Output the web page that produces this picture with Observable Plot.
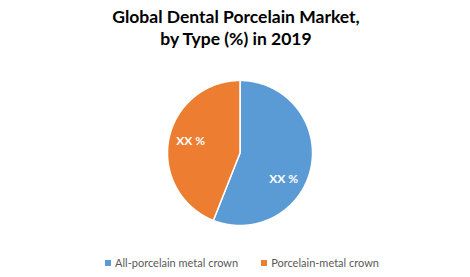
<!DOCTYPE html>
<html>
<head>
<meta charset="utf-8">
<script src="https://cdn.jsdelivr.net/npm/d3@7"></script>
<script src="https://cdn.jsdelivr.net/npm/@observablehq/plot@0.6"></script>
<style>
  html, body { margin: 0; padding: 0; background: #fff; }
  #wrap { width: 470px; height: 277px; position: relative; overflow: hidden; font-family: Lato, "Open Sans", sans-serif; }
  #title { position: absolute; top: 6px; left: 0; width: 472px; text-align: center; font-weight: bold; font-size: 17.5px; line-height: 22px; color: #000; }
  #chart { position: absolute; top: 60px; left: 0; }
  #legend { position: absolute; top: 256px; left: 7px; width: 470px; display: flex; justify-content: center; gap: 23px; font-size: 11px; color: #595959; }
  .item { display: flex; align-items: center; }
  .sw { width: 6px; height: 6px; margin-right: 4px; }
</style>
</head>
<body>
<div id="wrap">
  <div id="title">Global Dental Porcelain Market,<br>by Type (%) in 2019</div>
  <div id="chart"></div>
  <div id="legend"></div>
</div>
<script>
const categories = ["All-porcelain metal crown", "Porcelain-metal crown"];
const values = [56, 44];
const labels = ["XX %", "XX %"];
const colors = ["#5B9BD5", "#ED7D31"];

const W = 470, H = 185, R = 72.5, CX = 239.5, CY = 92.5;

const pie = d3.pie().sort(null).value(d => d.value);
const arcs = pie(categories.map((c, i) => ({type: c, value: values[i], label: labels[i]})));

// polygon points for each slice (center + sampled arc), in unit-radius coordinates
const pts = [];
for (const a of arcs) {
  pts.push({type: a.data.type, x: 0, y: 0});
  const n = Math.max(2, Math.ceil((a.endAngle - a.startAngle) / 0.01));
  for (let k = 0; k <= n; k++) {
    const t = a.startAngle + (a.endAngle - a.startAngle) * k / n;
    pts.push({type: a.data.type, x: Math.sin(t), y: Math.cos(t)});
  }
  pts.push({type: a.data.type, x: 0, y: 0});
}
const labelPts = arcs.map((a, i) => {
  const m = (a.startAngle + a.endAngle) / 2 + (i === 0 ? 0.35 : 0.05);
  return {label: a.data.label, x: 0.7 * Math.sin(m), y: 0.7 * Math.cos(m)};
});

const chart = Plot.plot({
  width: W, height: H,
  margin: 0,
  x: {domain: [-CX / R, (W - CX) / R], axis: null},
  y: {domain: [-(H - CY) / R, CY / R], axis: null},
  color: {domain: categories, range: colors},
  style: {background: "transparent"},
  marks: [
    Plot.line(pts, {x: "x", y: "y", z: "type", fill: "type", stroke: "white", strokeWidth: 1.5, strokeLinejoin: "round", curve: "linear"}),
    Plot.text(labelPts, {x: "x", y: "y", text: "label", fill: "white", fontSize: 12, fontFamily: "Lato, sans-serif", fontWeight: "bold"})
  ]
});
document.getElementById("chart").appendChild(chart);

const legend = document.getElementById("legend");
categories.forEach((c, i) => {
  const it = document.createElement("div");
  it.className = "item";
  it.innerHTML = `<span class="sw" style="background:${colors[i]}"></span><span>${c}</span>`;
  legend.appendChild(it);
});
</script>
</body>
</html>
